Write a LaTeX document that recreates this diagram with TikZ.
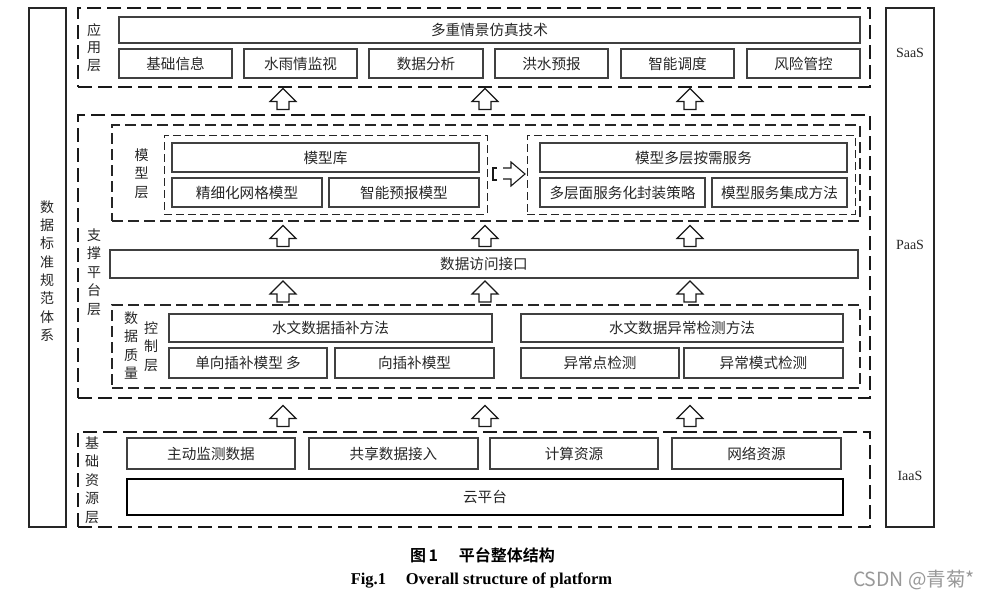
\documentclass[tikz,border=0pt]{standalone}
\usepackage{fontspec}
\setmainfont{Liberation Serif}
\newfontfamily\cjk{Noto Sans CJK SC}
\newfontfamily\cjkbold{Noto Sans CJK SC Bold}
\begin{document}
\begin{tikzpicture}[x=1pt,y=-1pt,
  layer/.style={draw=black!90, line width=1.8pt, dash pattern=on 14pt off 6pt, inner sep=0},
  sublayer/.style={draw=black!85, line width=1.3pt, dash pattern=on 11pt off 5pt, inner sep=0},
  group/.style={draw=black!85, line width=1pt, dash pattern=on 8pt off 4pt, inner sep=0},
  box/.style={draw=black!75, line width=1.1pt, inner sep=0, text=black!85,
    font=\cjk\fontsize{14.6}{16}\selectfont},
  cloudbox/.style={box, draw=black, line width=2.6pt},
  side/.style={draw=black!85, line width=1.1pt, inner sep=0},
  vlabel/.style={align=center, inner sep=0, text=black!85, font=\cjk\fontsize{14}{18.3}\selectfont},
  tier/.style={inner sep=0, text=black!85, font=\fontsize{14}{16}\selectfont},
  arrowline/.style={draw=black!90, line width=1.1pt, fill=white, line join=miter},
  uparrow/.pic={\path[arrowline] (-6,10.5) -- (-6,2.5) -- (-13,2.5) -- (0,-10.5)
      -- (13,2.5) -- (6,2.5) -- (6,10.5) -- cycle;}
]
\useasboundingbox (0,0) rectangle (989,600);

% side columns
\node[side, minimum width=37pt, minimum height=519pt] (std) at (47.5,267.5) {};
\node[vlabel] (stdl) at (47,271) {数\\据\\标\\准\\规\\范\\体\\系};
\node[side, minimum width=48pt, minimum height=519pt] (svc) at (910,267.5) {};
\node[tier] (saas) at (910,53) {SaaS};
\node[tier] (paas) at (910,245) {PaaS};
\node[tier] (iaas) at (910,476) {IaaS};

% application layer
\node[layer, minimum width=792pt, minimum height=79pt] (app) at (474,47.5) {};
\node[vlabel, font=\cjk\fontsize{14}{17.5}\selectfont] (appl) at (94,47.5) {应\\用\\层};
\node[box, minimum width=741pt, minimum height=26pt] (sim) at (489.5,30) {多重情景仿真技术};
\node[box, minimum width=113pt, minimum height=29pt] (a1) at (175.5,63.5) {基础信息};
\node[box, minimum width=113pt, minimum height=29pt] (a2) at (300.5,63.5) {水雨情监视};
\node[box, minimum width=114pt, minimum height=29pt] (a3) at (426,63.5) {数据分析};
\node[box, minimum width=113pt, minimum height=29pt] (a4) at (551.5,63.5) {洪水预报};
\node[box, minimum width=113pt, minimum height=29pt] (a5) at (677.5,63.5) {智能调度};
\node[box, minimum width=113pt, minimum height=29pt] (a6) at (803.5,63.5) {风险管控};

% support platform layer
\node[layer, minimum width=792pt, minimum height=283pt] (sup) at (474,256.5) {};
\node[vlabel, font=\cjk\fontsize{14}{18.5}\selectfont] (supl) at (94,272) {支\\撑\\平\\台\\层};

% model layer
\node[sublayer, minimum width=748pt, minimum height=96pt] (model) at (486,173) {};
\node[vlabel, font=\cjk\fontsize{14}{18.5}\selectfont] (modell) at (141.5,173.5) {模\\型\\层};
\node[group, minimum width=323pt, minimum height=79pt] (lib) at (325.5,174.5) {};
\node[group, minimum width=328pt, minimum height=79pt] (srv) at (691,174.5) {};
\node[box, minimum width=307pt, minimum height=29pt] (m1) at (325.5,157.5) {模型库};
\node[box, minimum width=150pt, minimum height=29pt] (m2) at (247,192.5) {精细化网格模型};
\node[box, minimum width=150pt, minimum height=29pt] (m3) at (404,192.5) {智能预报模型};
\node[box, minimum width=307pt, minimum height=29pt] (s1) at (693.5,157.5) {模型多层按需服务};
\node[box, minimum width=165pt, minimum height=29pt] (s2) at (622.5,192.5) {多层面服务化封装策略};
\node[box, minimum width=135pt, minimum height=29pt] (s3) at (779.5,192.5) {模型服务集成方法};

% block arrow from the model library to the model services
\coordinate (ra) at (493,174);
\draw[black!90, line width=1.1pt] ([xshift=4pt,yshift=-6pt]ra) -- ([yshift=-6pt]ra)
  -- ([yshift=6pt]ra) -- ([xshift=4pt,yshift=6pt]ra);
\draw[arrowline] ([xshift=10pt,yshift=-5pt]ra) -- ([xshift=18pt,yshift=-5pt]ra)
  -- ([xshift=18pt,yshift=-12pt]ra) -- ([xshift=32pt]ra) -- ([xshift=18pt,yshift=12pt]ra)
  -- ([xshift=18pt,yshift=6pt]ra) -- ([xshift=10pt,yshift=6pt]ra);

% data access interface
\node[box, minimum width=748pt, minimum height=28pt] (dai) at (484,264) {数据访问接口};

% data quality control layer
\node[sublayer, minimum width=748pt, minimum height=83pt] (dq) at (486,346.5) {};
\node[vlabel] (dql) at (131,345.5) {数\\据\\质\\量};
\node[vlabel] (dqr) at (151,346.5) {控\\制\\层};
\node[box, minimum width=323pt, minimum height=28pt] (q1) at (330.5,328) {水文数据插补方法};
\node[box, minimum width=158pt, minimum height=30pt] (q2) at (248,363) {单向插补模型 多};
\node[box, minimum width=159pt, minimum height=30pt] (q3) at (414.5,363) {向插补模型};
\node[box, minimum width=322pt, minimum height=28pt] (q4) at (682,328) {水文数据异常检测方法};
\node[box, minimum width=158pt, minimum height=30pt] (q5) at (600,363) {异常点检测};
\node[box, minimum width=159pt, minimum height=30pt] (q6) at (763.5,363) {异常模式检测};

% infrastructure layer
\node[layer, minimum width=792pt, minimum height=95pt] (base) at (474,479.5) {};
\node[vlabel, font=\cjk\fontsize{14}{18.5}\selectfont] (basel) at (92,480) {基\\础\\资\\源\\层};
\node[box, minimum width=168pt, minimum height=31pt] (b1) at (211,453.5) {主动监测数据};
\node[box, minimum width=169pt, minimum height=31pt] (b2) at (393.5,453.5) {共享数据接入};
\node[box, minimum width=168pt, minimum height=31pt] (b3) at (574,453.5) {计算资源};
\node[box, minimum width=169pt, minimum height=31pt] (b4) at (756.5,453.5) {网络资源};
\node[cloudbox, minimum width=716pt, minimum height=36pt] (cloud) at (485,497) {云平台};

% upward arrows between the layers
\foreach \cx in {283,485,690}{
  \pic at (\cx,99) {uparrow};
  \pic at (\cx,236) {uparrow};
  \pic at (\cx,291.5) {uparrow};
  \pic at (\cx,416) {uparrow};
}

% caption
\node[inner sep=0, font=\cjkbold\fontsize{16}{18}\selectfont] (cap) at (482.5,555)
  {图\,1\hspace{1.3em}平台整体结构};
\node[inner sep=0, font=\bfseries\fontsize{16.5}{18}\selectfont] (capen) at (481.5,581)
  {Fig.1\hspace{1.2em}Overall structure of platform};
\node[inner sep=0, text=black!40, font=\cjk\fontsize{19.5}{21}\selectfont] (mark) at (914,580)
  {CSDN @青菊*};
\end{tikzpicture}
\end{document}
